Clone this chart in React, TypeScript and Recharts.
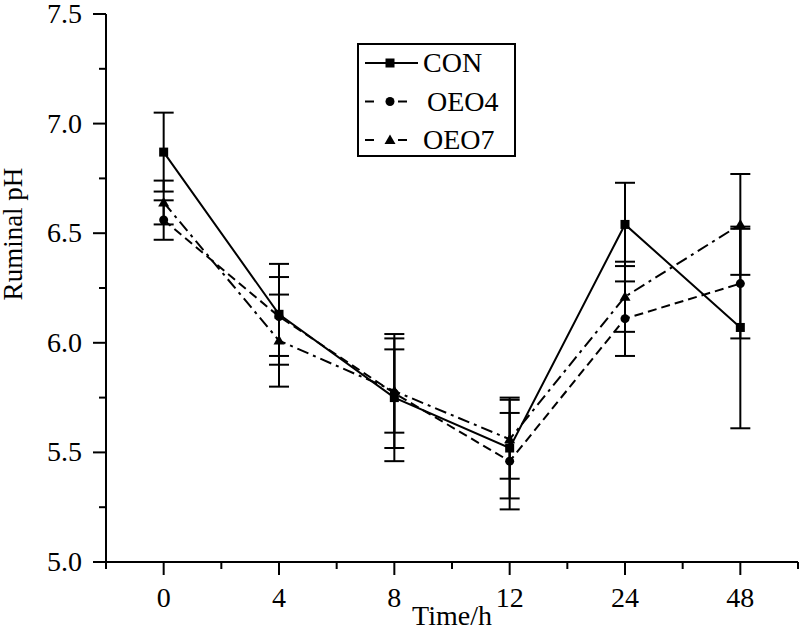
import React from 'react';
import { ComposedChart, Line, XAxis, YAxis, ErrorBar, Legend } from 'recharts';

const timeLabels = ['0', '4', '8', '12', '24', '48'];
const conMean = [6.87, 6.13, 5.75, 5.52, 6.54, 6.07];
const conErr = [0.18, 0.23, 0.29, 0.23, 0.19, 0.46];
const oeo4Mean = [6.56, 6.12, 5.77, 5.46, 6.11, 6.27];
const oeo4Err = [0.09, 0.18, 0.25, 0.22, 0.17, 0.25];
const oeo7Mean = [6.64, 6.01, 5.78, 5.56, 6.21, 6.54];
const oeo7Err = [0.1, 0.21, 0.19, 0.18, 0.16, 0.23];
const yTicks = [5.0, 5.25, 5.5, 5.75, 6.0, 6.25, 6.5, 6.75, 7.0, 7.25, 7.5];

const data = timeLabels.map((t, i) => ({
  idx: i,
  label: t,
  con: conMean[i],
  conErr: conErr[i],
  oeo4: oeo4Mean[i],
  oeo4Err: oeo4Err[i],
  oeo7: oeo7Mean[i],
  oeo7Err: oeo7Err[i],
}));

const xTicks: number[] = [];
for (let i = -1; i <= timeLabels.length * 2 - 1; i++) xTicks.push(i / 2);

const FONT = '"Liberation Serif", "Times New Roman", serif';

const XTick = (props: any) => {
  const { x, y, payload } = props;
  const v = payload.value;
  const major = Number.isInteger(v);
  const lbl = major && v >= 0 && v < timeLabels.length ? timeLabels[v] : '';
  return (
    <g>
      <line x1={x} x2={x} y1={y} y2={y + (major ? 13 : 7)} stroke="#000" strokeWidth={2} />
      {lbl !== '' && (
        <text x={x} y={y + 45} textAnchor="middle" fontFamily={FONT} fontSize={28} fill="#000">
          {lbl}
        </text>
      )}
    </g>
  );
};

const YTick = (props: any) => {
  const { x, y, payload } = props;
  const v = payload.value;
  const major = Math.abs(v * 2 - Math.round(v * 2)) < 1e-6;
  return (
    <g>
      <line x1={x - (major ? 13 : 7)} x2={x} y1={y} y2={y} stroke="#000" strokeWidth={2} />
      {major && (
        <text x={x - 24} y={y + 9} textAnchor="end" fontFamily={FONT} fontSize={28} fill="#000">
          {v.toFixed(1)}
        </text>
      )}
    </g>
  );
};

const Square = (p: any) => {
  if (p.cx == null || p.cy == null) return <g key={p.index} />;
  return <rect key={p.index} x={p.cx - 4.5} y={p.cy - 4.5} width={9} height={9} fill="#000" />;
};
const Dot = (p: any) => {
  if (p.cx == null || p.cy == null) return <g key={p.index} />;
  return <circle key={p.index} cx={p.cx} cy={p.cy} r={4.5} fill="#000" />;
};
const Tri = (p: any) => {
  if (p.cx == null || p.cy == null) return <g key={p.index} />;
  return (
    <path
      key={p.index}
      d={`M${p.cx},${p.cy - 5.5} L${p.cx + 5.5},${p.cy + 4} L${p.cx - 5.5},${p.cy + 4} Z`}
      fill="#000"
    />
  );
};

const legendItems = [
  { name: 'CON', dash: undefined as string | undefined, marker: 'square', tx: 66 },
  { name: 'OEO4', dash: '8 18', marker: 'circle', tx: 70 },
  { name: 'OEO7', dash: '8 16', marker: 'tri', tx: 66 },
];

const LegendBox = () => (
  <svg width={160} height={115} style={{ display: 'block' }}>
    <rect x={1} y={1} width={157} height={112} fill="#fff" stroke="#000" strokeWidth={2} />
    {legendItems.map((it, i) => {
      const cy = 20 + i * 38.5;
      const cx = 33;
      return (
        <g key={it.name}>
          {it.dash ? (
            <g>
              <line x1={8} x2={17} y1={cy} y2={cy} stroke="#000" strokeWidth={2} />
              <line x1={41} x2={50} y1={cy} y2={cy} stroke="#000" strokeWidth={2} />
            </g>
          ) : (
            <line x1={8} x2={61} y1={cy} y2={cy} stroke="#000" strokeWidth={2} />
          )}
          {it.marker === 'square' && <rect x={cx - 4.5} y={cy - 4.5} width={9} height={9} fill="#000" />}
          {it.marker === 'circle' && <circle cx={cx} cy={cy} r={4.5} fill="#000" />}
          {it.marker === 'tri' && (
            <path d={`M${cx},${cy - 5.5} L${cx + 5.5},${cy + 4} L${cx - 5.5},${cy + 4} Z`} fill="#000" />
          )}
          <text x={it.tx} y={cy + 9} fontFamily={FONT} fontSize={28} fill="#000">
            {it.name}
          </text>
        </g>
      );
    })}
  </svg>
);

const YLabel = (props: any) => {
  const cx = 13;
  const cy = 234;
  return (
    <text
      x={cx}
      y={cy}
      transform={`rotate(-90, ${cx}, ${cy})`}
      textAnchor="middle"
      dominantBaseline="central"
      fontFamily={FONT}
      fontSize={27}
      fill="#000"
    >
      Ruminal pH
    </text>
  );
};

const XLabel = (props: any) => {
  const vb = props.viewBox || {};
  const cx = (vb.x ?? 106) + (vb.width ?? 692) / 2;
  return (
    <text x={cx} y={625} textAnchor="middle" fontFamily={FONT} fontSize={28} fill="#000">
      Time/h
    </text>
  );
};

export default function App() {
  return (
    <div style={{ position: 'absolute', left: 0, top: 0, width: 800, height: 631, background: '#fff' }}>
      <ComposedChart
        width={800}
        height={631}
        data={data}
        margin={{ top: 14, right: 2, bottom: 0, left: 0 }}
      >
        <XAxis
          type="number"
          dataKey="idx"
          domain={[-0.5, 5.5]}
          ticks={xTicks}
          interval={0}
          allowDataOverflow
          height={69}
          tickSize={0}
          tickMargin={0}
          tickLine={false}
          tick={<XTick />}
          axisLine={{ stroke: '#000', strokeWidth: 2 }}
          label={{ value: 'Time/h', content: <XLabel /> }}
        />
        <YAxis
          type="number"
          domain={[5, 7.5]}
          ticks={yTicks}
          interval={0}
          allowDataOverflow
          width={106}
          tickSize={0}
          tickMargin={0}
          tickLine={false}
          tick={<YTick />}
          axisLine={{ stroke: '#000', strokeWidth: 2 }}
          label={{ value: 'Ruminal pH', content: <YLabel /> }}
        />
        <Legend
          layout="vertical"
          align="center"
          verticalAlign="middle"
          content={() => <LegendBox />}
          wrapperStyle={{ position: 'absolute', left: 357, top: 43, width: 160, height: 115 }}
        />
        <Line
          type="linear"
          dataKey="oeo7"
          name="OEO7"
          stroke="#000"
          strokeWidth={2}
          strokeDasharray="12 5 3 5"
          dot={Tri}
          activeDot={false}
          isAnimationActive={false}
        >
          <ErrorBar dataKey="oeo7Err" width={10} stroke="#000" strokeWidth={2} direction="y" isAnimationActive={false} />
        </Line>
        <Line
          type="linear"
          dataKey="oeo4"
          name="OEO4"
          stroke="#000"
          strokeWidth={2}
          strokeDasharray="9 5"
          dot={Dot}
          activeDot={false}
          isAnimationActive={false}
        >
          <ErrorBar dataKey="oeo4Err" width={10} stroke="#000" strokeWidth={2} direction="y" isAnimationActive={false} />
        </Line>
        <Line
          type="linear"
          dataKey="con"
          name="CON"
          stroke="#000"
          strokeWidth={2}
          dot={Square}
          activeDot={false}
          isAnimationActive={false}
        >
          <ErrorBar dataKey="conErr" width={10} stroke="#000" strokeWidth={2} direction="y" isAnimationActive={false} />
        </Line>
      </ComposedChart>
    </div>
  );
}
